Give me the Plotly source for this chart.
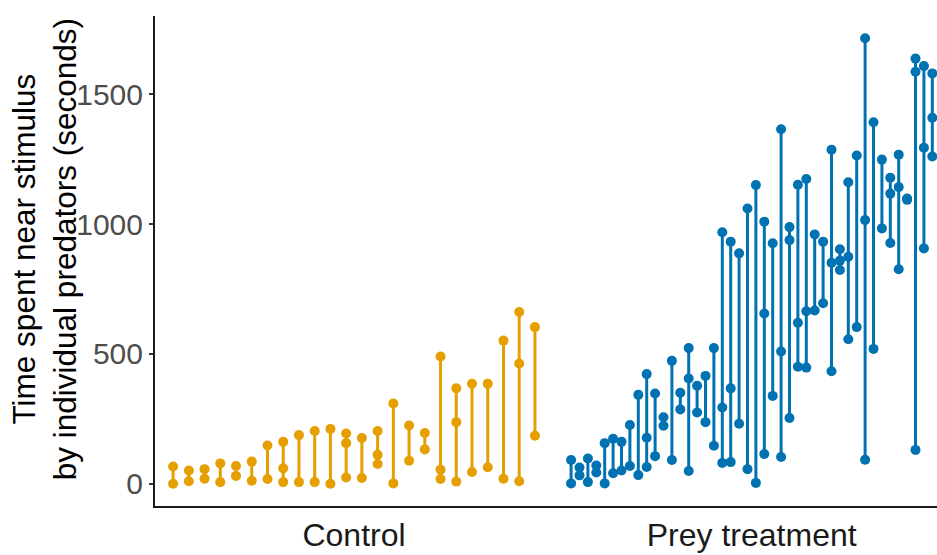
import plotly.graph_objects as go

# Time (s) each predator spent near the stimulus, one list per individual
control_values = [
    [0, 66], [9, 51], [19, 56], [6, 78], [30, 68], [11, 85], [18, 147],
    [6, 59, 161], [6, 187], [6, 203], [0, 211], [24, 156, 193], [22, 176],
    [76, 111, 203], [1, 309], [88, 224], [132, 195], [18, 54, 490],
    [8, 237, 367], [45, 385], [63, 385], [19, 551], [9, 463, 661], [185, 603],
]
prey_values = [
    [1, 91], [32, 62], [6, 97], [43, 70], [1, 156], [40, 173], [51, 161],
    [68, 226], [33, 342], [64, 177, 422], [106, 347], [223, 256], [91, 473],
    [286, 350], [49, 405, 522], [274, 377], [237, 415], [146, 522],
    [80, 293, 968], [83, 367, 932], [231, 887], [56, 1060], [3, 1150],
    [114, 655, 1009], [338, 926], [103, 509, 1365], [253, 938, 988],
    [450, 620, 1151], [447, 664, 1173], [667, 960], [695, 932],
    [433, 851, 1286], [823, 859, 903], [556, 874, 1161], [603, 1264],
    [92, 1015, 1715], [519, 1392], [983, 1248], [927, 1117, 1178],
    [826, 1142, 1267], [1093, 1098], [130, 1586, 1637], [906, 1294, 1608],
    [1260, 1409, 1580],
]
group_labels = ["Control", "Prey treatment"]
group_colors = ["#E69F00", "#0072B2"]
y_ticks = [0, 500, 1000, 1500]


def segments(values):
    xs, ys = [], []
    for i, vals in enumerate(values):
        for v in sorted(vals):
            xs.append(i)
            ys.append(v)
        xs.append(None)
        ys.append(None)
    return xs, ys


fig = go.Figure()
for values, color, xa in [(control_values, group_colors[0], "x"),
                          (prey_values, group_colors[1], "x2")]:
    xs, ys = segments(values)
    fig.add_trace(go.Scatter(
        x=xs, y=ys, xaxis=xa, yaxis="y", mode="lines+markers",
        line=dict(color=color, width=3),
        marker=dict(color=color, size=10),
        connectgaps=False, showlegend=False, hoverinfo="skip",
    ))

ymin, ymax = -86, 1801
n_c, n_p = len(control_values), len(prey_values)
exp_c = 0.05 * (n_c - 1)
exp_p = 0.05 * (n_p - 1)

split = 0.509
axis_common = dict(
    showline=True, linecolor="#1a1a1a", linewidth=2, zeroline=False,
    showgrid=False, ticks="", ticklabelstandoff=0, automargin=False,
    tickfont=dict(family="Liberation Sans, Arial", size=32, color="#1a1a1a"),
)
fig.update_layout(
    width=937, height=555,
    margin=dict(l=155, r=0, t=16, b=49),
    plot_bgcolor="white", paper_bgcolor="white",
    xaxis=dict(domain=[0, split], range=[-exp_c, n_c - 1 + exp_c],
               tickvals=[(n_c - 1) / 2], ticktext=[group_labels[0]],
               anchor="y", **axis_common),
    xaxis2=dict(domain=[split, 1], range=[-exp_p, n_p - 1 + exp_p * 0.26],
                tickvals=[(n_p - 1) / 2], ticktext=[group_labels[1]],
                anchor="y", **axis_common),
    yaxis=dict(range=[ymin, ymax], tickvals=y_ticks, automargin=False,
               showline=True, linecolor="#1a1a1a", linewidth=2,
               zeroline=False, showgrid=False,
               ticks="outside", ticklen=4, tickwidth=1.5, tickcolor="#333333",
               tickfont=dict(family="Liberation Sans, Arial", size=30, color="#4D4D4D")),
)
fig.add_annotation(
    text="Time spent near stimulus<br>by individual predators (seconds)",
    xref="paper", yref="paper", x=0, y=0.524, xshift=-111,
    xanchor="center", yanchor="middle", textangle=-90, showarrow=False,
    font=dict(family="Liberation Sans, Arial", size=31.5, color="black"),
)

fig.write_html("out.html")
